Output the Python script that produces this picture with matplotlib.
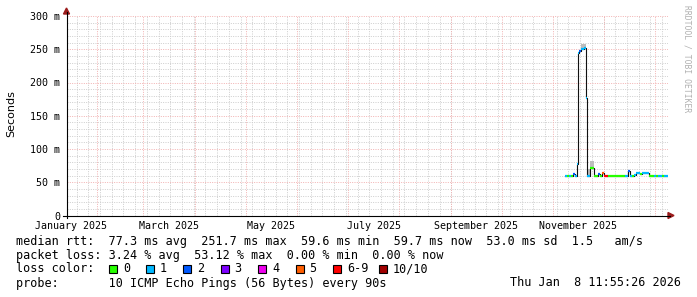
import numpy as np
import pandas as pd
import matplotlib
matplotlib.use('Agg')
import matplotlib.pyplot as plt
from matplotlib.patches import Rectangle, Polygon
from matplotlib.lines import Line2D

# time in days since 2025-01-01, median rtt in ms, lost pings out of 10
days = [310.7, 311.9, 313.1, 314.3, 315.5, 316.0, 316.7, 317.9, 318.9, 319.6,
        320.8, 322.0, 323.5, 324.1, 325.0, 325.8, 326.8, 328.2, 329.2, 330.8,
        331.6, 333.2, 334.0, 335.2, 336.4, 338.8, 341.2, 343.6, 346.9, 348.8,
        349.6, 350.8, 352.0, 353.2, 354.4, 355.6, 356.8, 358.0, 359.2, 360.4,
        361.4, 362.8, 364.0, 365.2, 366.4, 367.6, 368.8, 370.0, 371.2]
median_ms = [59, 59, 59, 60, 61, 62, 59, 78, 245, 248,
             250, 252, 177, 59, 59, 72, 72, 60, 60, 62.5,
             60, 64, 59, 59, 59, 59, 59, 59, 60, 67.5,
             59, 59, 61, 64, 64, 63, 64, 64, 64, 64,
             59, 59, 59, 59, 59, 59, 59, 59, 59]
loss = [1, 0, 1, 0, 1, 2, 1, 1, 1, 2,
        1, 1, 1, 1, 1, 0, 0, 0, 0, 2,
        0, 5, 7, 7, 0, 0, 0, 0, 1, 2,
        1, 0, 1, 1, 1, 0, 1, 1, 1, 1,
        0, 0, 1, 0, 1, 1, 0, 1, 1]
smoke_top_ms = [59, 59, 59, 60, 61, 62, 59, 78, 245, 248,
                258, 258, 177, 70, 70, 82, 82, 60, 60, 62.5,
                60, 64, 59, 59, 59, 59, 59, 59, 60, 67.5,
                59, 59, 61, 64, 64, 63, 64, 64, 64, 64,
                59, 59, 59, 59, 59, 59, 59, 59, 59]
end_day = 372.8

month_labels = ['January 2025', 'March 2025', 'May 2025', 'July 2025',
                'September 2025', 'November 2025']
y_values = [0, 50, 100, 150, 200, 250, 300]
y_labels = ['0', '50 m', '100 m', '150 m', '200 m', '250 m', '300 m']
legend_labels = ['0', '1', '2', '3', '4', '5', '6-9', '10/10']
loss_colors = ['#26ff00', '#00b8ff', '#0059ff', '#7e00ff', '#ee00ee',
               '#ff5e00', '#ff0000', '#a10000']

W, H = 697, 297
base = pd.Timestamp('2025-01-01')


def px(x, y):
    return x / W, 1 - y / H


def loss_color(n):
    if n >= 10:
        return loss_colors[7]
    if n >= 6:
        return loss_colors[6]
    return loss_colors[n]


fig = plt.figure(figsize=(W / 100, H / 100), dpi=100)
L, R, T, B = 66.5, 668, 16, 215.5
ax = fig.add_axes([L / W, 1 - B / H, (R - L) / W, (B - T) / H])
ax.set_xlim(13.0, 372.5)
ax.set_ylim(0, 300)
for s in ax.spines.values():
    s.set_visible(False)

# grid
minor = dict(color='#cdcdcd', lw=0.7, ls=(0, (1, 1.4)), zorder=0)
major = dict(color='#f2b0b0', lw=0.7, ls=(0, (1, 1.4)), zorder=0.5)
for v in range(10, 300, 10):
    if v % 50:
        ax.axhline(v, **minor)
for v in range(50, 301, 50):
    ax.axhline(v, **major)
for d in pd.date_range('2025-01-06', '2026-01-08', freq='W-MON'):
    ax.axvline((d - base).days, **minor)
for d in pd.date_range('2025-01-01', '2026-01-01', freq='MS'):
    ax.axvline((d - base).days, **major)

# data
x = np.array(days + [end_day])
med = np.array(median_ms)
top = np.array(smoke_top_ms)
for i in range(len(med)):
    if top[i] > med[i]:
        ax.fill_between([x[i], x[i + 1]], med[i], top[i], color='#bdbdbd',
                        lw=0, zorder=1)
ax.step(x, np.append(med, med[-1]), where='post', color='#111111', lw=0.8,
        zorder=2)
ax.hlines(med, x[:-1], x[1:], colors=[loss_color(n) for n in loss],
          lw=1.6, zorder=3)

# ticks
mono = 'DejaVu Sans Mono'
mids = []
for lab in month_labels:
    st = pd.Timestamp(lab)
    mids.append((st - base).days + st.days_in_month / 2)
ax.set_xticks(mids)
ax.set_xticklabels(month_labels, family=mono, fontsize=7.2)
ax.set_yticks(y_values)
ax.set_yticklabels(y_labels, family=mono, fontsize=7.2)
ax.tick_params(axis='x', length=0, pad=4)
ax.tick_params(axis='y', length=0, pad=4.5)

# axes lines and arrows
arrow = '#9b1c1c'
fig.add_artist(Line2D([px(L, 218)[0], px(L, 12)[0]], [px(L, 218)[1], px(L, 12)[1]],
                      color='black', lw=0.8))
fig.add_artist(Line2D([px(63, B)[0], px(670, B)[0]], [px(63, B)[1], px(670, B)[1]],
                      color='black', lw=0.8))
fig.add_artist(Polygon([px(L, 8), px(L - 3, 14), px(L + 3, 14)], closed=True,
                       color=arrow, transform=fig.transFigure))
fig.add_artist(Polygon([px(674, B), px(668, B - 3), px(668, B + 3)], closed=True,
                       color=arrow, transform=fig.transFigure))

fig.text(*px(11, 114), 'Seconds', rotation=90, ha='center', va='center',
         fontsize=8, family='DejaVu Sans')
fig.text(*px(687, 5), 'RRDTOOL / TOBI OETIKER', rotation=270, ha='center',
         va='top', fontsize=5.8, family=mono, color='#b0b0b0')

# legend text
fs = 8.5
fig.text(*px(16.5, 241), 'median rtt:  77.3 ms avg  251.7 ms max  59.6 ms min  '
         '59.7 ms now  53.0 ms sd  1.5   am/s', family=mono, fontsize=fs, va='center')
fig.text(*px(16.5, 255), 'packet loss: 3.24 % avg  53.12 % max  0.00 % min  0.00 % now',
         family=mono, fontsize=fs, va='center')
fig.text(*px(16.5, 269), 'loss color:', family=mono, fontsize=fs, va='center')
box_x = [109, 145.5, 183, 220.5, 258, 295.5, 333, 378.6]
for bx, lab, col in zip(box_x, legend_labels, loss_colors):
    fig.add_artist(Rectangle(px(bx, 273), 8 / W, 8 / H, facecolor=col,
                             edgecolor='black', lw=0.8, transform=fig.transFigure))
    fig.text(*px(bx + 14, 269), lab, family=mono, fontsize=fs, va='center')
fig.text(*px(16.5, 283), 'probe:       10 ICMP Echo Pings (56 Bytes) every 90s',
         family=mono, fontsize=fs, va='center')
fig.text(*px(681, 283), 'Thu Jan  8 11:55:26 2026', family=mono, fontsize=fs,
         va='center', ha='right')

fig.savefig('out.png', dpi=100)
